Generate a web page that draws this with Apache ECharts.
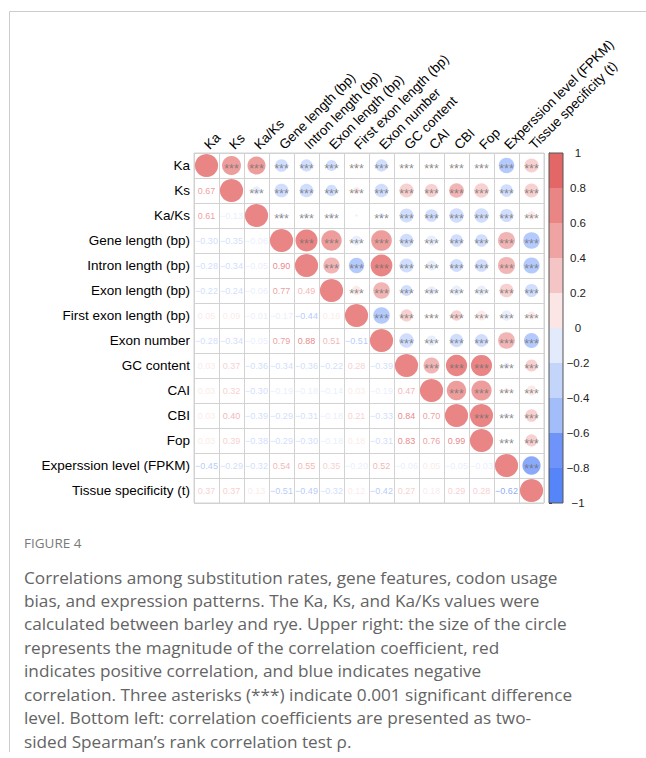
<!DOCTYPE html>
<html>
<head>
<meta charset="utf-8">
<script src="https://cdn.jsdelivr.net/npm/echarts@6/dist/echarts.min.js"></script>
<style>
html,body{margin:0;padding:0;background:#fff;}
#c{width:646px;height:758px;}
</style>
</head>
<body>
<div id="c"></div>
<script>
// ---- Data ----
const variables = ['Ka','Ks','Ka/Ks','Gene length (bp)','Intron length (bp)','Exon length (bp)','First exon length (bp)','Exon number','GC content','CAI','CBI','Fop','Experssion level (FPKM)','Tissue specificity (t)'];

// lower-triangle Spearman correlations, row by row (columns follow variables order)
const rowKa = [];
const rowKs = [0.67];
const rowKaKs = [0.61, -0.13];
const rowGeneLength = [-0.30, -0.35, -0.06];
const rowIntronLength = [-0.28, -0.34, -0.05, 0.90];
const rowExonLength = [-0.22, -0.24, -0.06, 0.77, 0.49];
const rowFirstExonLength = [0.05, 0.09, -0.01, -0.17, -0.44, 0.16];
const rowExonNumber = [-0.28, -0.34, -0.05, 0.79, 0.88, 0.51, -0.51];
const rowGC = [0.03, 0.37, -0.36, -0.34, -0.36, -0.22, 0.28, -0.39];
const rowCAI = [0.03, 0.32, -0.30, -0.19, -0.18, -0.14, 0.03, -0.19, 0.47];
const rowCBI = [0.03, 0.40, -0.39, -0.29, -0.31, -0.18, 0.21, -0.33, 0.84, 0.70];
const rowFop = [0.03, 0.39, -0.38, -0.29, -0.30, -0.18, 0.18, -0.31, 0.83, 0.76, 0.99];
const rowExpression = [-0.45, -0.29, -0.32, 0.54, 0.55, 0.35, -0.20, 0.52, -0.06, 0.05, -0.05, -0.03];
const rowTissue = [0.37, 0.37, 0.13, -0.51, -0.49, -0.32, 0.12, -0.42, 0.27, 0.18, 0.29, 0.28, -0.62];

// pairs without significance stars
const notSignificant = [['Ka/Ks', 'First exon length (bp)']];
const starLabel = '***';

// colour scale
const colorbarBreaks = [-1, -0.8, -0.6, -0.4, -0.2, 0, 0.2, 0.4, 0.6, 0.8, 1];
const bandColors = ['#5585F8','#6E94F9','#A3BDFB','#C4D5FC','#E3EAFC','#FBE5E5','#F5C4C4','#EFA3A3','#EA8585','#E46767'];

const captionTitle = 'FIGURE 4';
const captionLines = [
  'Correlations among substitution rates, gene features, codon usage',
  'bias, and expression patterns. The Ka, Ks, and Ka/Ks values were',
  'calculated between barley and rye. Upper right: the size of the circle',
  'represents the magnitude of the correlation coefficient, red',
  'indicates positive correlation, and blue indicates negative',
  'correlation. Three asterisks (***) indicate 0.001 significant difference',
  'level. Bottom left: correlation coefficients are presented as two-',
  'sided Spearman\u2019s rank correlation test \u03c1.'
];

// ---- Build ----
const lowerRows = [rowKa, rowKs, rowKaKs, rowGeneLength, rowIntronLength, rowExonLength, rowFirstExonLength, rowExonNumber, rowGC, rowCAI, rowCBI, rowFop, rowExpression, rowTissue];
const n = variables.length;
function corr(i, j) {
  if (i === j) return 1;
  return i > j ? lowerRows[i][j] : lowerRows[j][i];
}
function bandIndex(v) {
  const k = Math.floor((v + 1) / 0.2 + 1e-9);
  return Math.max(0, Math.min(bandColors.length - 1, k));
}
function colorOf(v) { return bandColors[bandIndex(v)]; }
function fmt(v) { return (v < 0 ? '\u2212' : '') + Math.abs(v).toFixed(2); }
function isNotSig(i, j) {
  return notSignificant.some(p => {
    const a = variables.indexOf(p[0]), b = variables.indexOf(p[1]);
    return (a === i && b === j) || (a === j && b === i);
  });
}

const circleData = [], starData = [], numberData = [];
for (let i = 0; i < n; i++) {
  for (let j = 0; j < n; j++) {
    const r = corr(i, j);
    if (j >= i) {
      circleData.push({ value: [j, i, r], itemStyle: { color: colorOf(r) } });
      if (j > i && !isNotSig(i, j)) starData.push({ value: [j, i, r] });
    } else {
      numberData.push({ value: [j, i, r], label: { color: colorOf(r) } });
    }
  }
}
const bandData = bandColors.map((c, k) => [colorbarBreaks[k], colorbarBreaks[k + 1], k]);

const FONT = "'Liberation Sans', Arial, Helvetica, sans-serif";
const CELL = 25;
const gridColor = '#d2d2d2';

const chart = echarts.init(document.getElementById('c'), null, { renderer: 'svg', width: 646, height: 758 });

const graphics = [
  { type: 'line', shape: { x1: 9.5, y1: 11.5, x2: 646, y2: 11.5 }, style: { stroke: '#cccccc', lineWidth: 1 }, silent: true },
  { type: 'line', shape: { x1: 9.5, y1: 11.5, x2: 9.5, y2: 752 }, style: { stroke: '#cccccc', lineWidth: 1 }, silent: true },
  { type: 'text', left: 24, top: 536, style: { text: captionTitle, font: "13.5px 'Open Sans', sans-serif", fill: '#7a7a7a' }, silent: true }
];
captionLines.forEach((t, k) => {
  graphics.push({ type: 'text', left: 24, top: 568.5 + k * 23.45, style: { text: t, font: "17.2px 'Open Sans', sans-serif", fill: '#646464' }, silent: true });
});

chart.setOption({
  animation: false,
  textStyle: { fontFamily: FONT },
  grid: [
    { left: 194, top: 153, width: CELL * n, height: CELL * n, show: true, borderColor: gridColor, borderWidth: 1, backgroundColor: 'transparent' },
    { left: 549, top: 153, width: 14, height: 350, show: true, borderColor: '#555', borderWidth: 1, backgroundColor: 'transparent', z: 6 }
  ],
  xAxis: [
    { type: 'category', gridIndex: 0, data: variables, position: 'top', boundaryGap: true,
      axisLine: { show: false }, axisTick: { show: false },
      axisLabel: { rotate: -45, interval: 0, fontSize: 13.5, color: '#000', margin: 6, fontFamily: FONT },
      splitLine: { show: true, interval: 0, lineStyle: { color: gridColor, width: 1 } } },
    { type: 'value', gridIndex: 1, min: 0, max: 1, show: false }
  ],
  yAxis: [
    { type: 'category', gridIndex: 0, data: variables, inverse: true, boundaryGap: true,
      axisLine: { show: false }, axisTick: { show: false },
      axisLabel: { interval: 0, fontSize: 13.5, color: '#000', margin: 4, fontFamily: FONT },
      splitLine: { show: true, interval: 0, lineStyle: { color: gridColor, width: 1 } } },
    { type: 'value', gridIndex: 1, min: -1, max: 1, interval: 0.2, position: 'right',
      axisLine: { show: true, lineStyle: { color: '#333', width: 1 } },
      axisTick: { show: true, length: 3, lineStyle: { color: '#333' } },
      splitLine: { show: false },
      axisLabel: { align: 'center', margin: 15, fontSize: 11.5, color: '#222', fontFamily: FONT,
        formatter: v => { const r = Math.round(v * 10) / 10; return (r < 0 ? '\u2212' : '') + String(Math.abs(r)); } } }
  ],
  series: [
    { type: 'scatter', xAxisIndex: 0, yAxisIndex: 0, silent: true, z: 2,
      symbol: 'circle', symbolSize: v => 23.2 * Math.sqrt(Math.abs(v[2])),
      data: circleData },
    { type: 'scatter', xAxisIndex: 0, yAxisIndex: 0, silent: true, z: 3,
      symbol: 'circle', symbolSize: 1, itemStyle: { color: 'rgba(0,0,0,0)' },
      label: { show: true, position: 'inside', formatter: starLabel, color: '#6e6e6e', fontSize: 12.5, offset: [0, 3], fontFamily: FONT },
      data: starData },
    { type: 'scatter', xAxisIndex: 0, yAxisIndex: 0, silent: true, z: 3,
      symbol: 'circle', symbolSize: 1, itemStyle: { color: 'rgba(0,0,0,0)' },
      label: { show: true, position: 'inside', fontSize: 9, fontFamily: FONT, formatter: p => fmt(p.value[2]) },
      data: numberData },
    { type: 'custom', xAxisIndex: 1, yAxisIndex: 1, silent: true, z: 2, clip: false,
      encode: { y: [0, 1] },
      renderItem: (params, api) => {
        const p0 = api.coord([0, api.value(0)]);
        const p1 = api.coord([1, api.value(1)]);
        return { type: 'rect', shape: { x: p0[0], y: p1[1], width: p1[0] - p0[0], height: p0[1] - p1[1] },
                 style: { fill: bandColors[api.value(2)] } };
      },
      data: bandData }
  ],
  graphic: graphics
});
</script>
</body>
</html>
